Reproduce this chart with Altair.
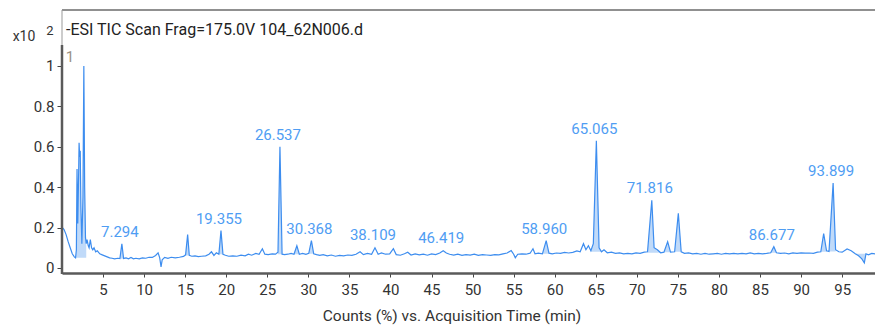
import altair as alt
import pandas as pd

# ---- data (time in min, counts x10^2 %) ----
times = [0.05, 0.25, 0.5, 0.75, 1.0, 1.25, 1.5, 1.65, 1.75, 1.83, 1.92, 2.02, 2.08, 2.15, 2.22, 2.3, 2.42,
         2.55, 2.66, 2.76, 2.86, 2.95, 3.05, 3.2, 3.3, 3.45, 3.6, 3.75, 3.9, 4.1, 4.3, 4.6, 4.9, 5.2, 5.5,
         5.8, 6.1, 6.4, 6.8, 7.05, 7.29, 7.5, 7.8, 8.1, 8.4, 8.7, 9.0, 9.4, 9.8, 10.2, 10.6, 11.0, 11.4,
         11.7, 11.9, 12.06, 12.2, 12.5, 12.9, 13.3, 13.8, 14.3, 14.8, 15.05, 15.3, 15.5, 15.8, 16.2, 16.6,
         17.0, 17.5, 17.9, 18.2, 18.5, 18.8, 19.1, 19.36, 19.6, 19.9, 20.3, 20.8, 21.3, 21.8, 22.3, 22.7,
         23.1, 23.6, 24.0, 24.4, 24.7, 25.1, 25.6, 26.0, 26.3, 26.54, 26.8, 27.1, 27.5, 27.9, 28.25, 28.6,
         28.9, 29.3, 29.7, 30.05, 30.37, 30.65, 31.0, 31.4, 31.8, 32.3, 32.8, 33.3, 33.8, 34.3, 34.8, 35.3,
         35.8, 36.3, 36.7, 37.2, 37.7, 38.11, 38.5, 38.9, 39.4, 39.9, 40.35, 40.7, 41.2, 41.7, 42.1, 42.5,
         43.0, 43.5, 44.0, 44.5, 45.0, 45.5, 46.0, 46.42, 46.8, 47.2, 47.7, 48.2, 48.7, 49.2, 49.7, 50.2,
         50.7, 51.2, 51.7, 52.2, 52.7, 53.2, 53.7, 54.2, 54.7, 55.0, 55.2, 55.5, 56.0, 56.5, 57.0, 57.35,
         57.6, 58.0, 58.5, 58.96, 59.3, 59.7, 60.2, 60.7, 61.2, 61.7, 62.2, 62.7, 63.1, 63.5, 63.8, 64.1,
         64.4, 64.7, 65.07, 65.4, 65.7, 66.0, 66.4, 66.9, 67.4, 67.9, 68.4, 68.9, 69.4, 69.9, 70.4, 70.9,
         71.3, 71.82, 72.1, 72.5, 72.9, 73.3, 73.75, 74.1, 74.6, 75.05, 75.4, 75.8, 76.3, 76.8, 77.3, 77.8,
         78.3, 78.8, 79.3, 79.8, 80.3, 80.8, 81.3, 81.8, 82.3, 82.8, 83.3, 83.8, 84.3, 84.8, 85.3, 85.8,
         86.3, 86.68, 87.0, 87.5, 88.0, 88.5, 89.0, 89.5, 90.0, 90.5, 91.0, 91.5, 92.0, 92.4, 92.75, 93.1,
         93.4, 93.9, 94.2, 94.6, 95.0, 95.6, 96.1, 96.6, 97.0, 97.4, 97.7, 97.9, 98.2, 98.6, 99.0]
counts = [0.20, 0.19, 0.165, 0.13, 0.10, 0.07, 0.055, 0.05, 0.09, 0.49, 0.22, 0.45, 0.62, 0.55, 0.58, 0.30, 0.12,
          0.35, 1.00, 0.40, 0.15, 0.12, 0.14, 0.11, 0.10, 0.14, 0.10, 0.09, 0.10, 0.08, 0.085, 0.07, 0.065, 0.06, 0.055,
          0.05, 0.048, 0.045, 0.048, 0.046, 0.12, 0.047, 0.05, 0.045, 0.052, 0.045, 0.048, 0.045, 0.05, 0.048, 0.053, 0.052, 0.062,
          0.075, 0.05, 0.005, 0.04, 0.052, 0.048, 0.053, 0.05, 0.053, 0.057, 0.065, 0.165, 0.062, 0.058, 0.06, 0.056,
          0.058, 0.06, 0.068, 0.08, 0.062, 0.075, 0.068, 0.185, 0.068, 0.063, 0.058, 0.06, 0.058, 0.063, 0.06, 0.068,
          0.063, 0.072, 0.068, 0.095, 0.068, 0.066, 0.07, 0.068, 0.078, 0.60, 0.068, 0.066, 0.068, 0.072, 0.068, 0.11,
          0.068, 0.072, 0.067, 0.072, 0.135, 0.07, 0.066, 0.062, 0.066, 0.06, 0.064, 0.058, 0.062, 0.06, 0.064, 0.062,
          0.068, 0.08, 0.066, 0.072, 0.068, 0.10, 0.068, 0.074, 0.068, 0.07, 0.095, 0.066, 0.063, 0.07, 0.078, 0.064,
          0.07, 0.065, 0.068, 0.063, 0.07, 0.066, 0.074, 0.085, 0.074, 0.068, 0.064, 0.068, 0.062, 0.066, 0.064, 0.068,
          0.062, 0.066, 0.064, 0.062, 0.066, 0.065, 0.07, 0.074, 0.086, 0.068, 0.05, 0.068, 0.07, 0.068, 0.073, 0.095,
          0.07, 0.073, 0.07, 0.135, 0.073, 0.07, 0.074, 0.072, 0.077, 0.074, 0.077, 0.084, 0.08, 0.12, 0.09, 0.11,
          0.085, 0.12, 0.63, 0.10, 0.08, 0.09, 0.075, 0.078, 0.072, 0.075, 0.07, 0.072, 0.07, 0.075, 0.072, 0.078,
          0.08, 0.335, 0.10, 0.09, 0.075, 0.078, 0.13, 0.078, 0.08, 0.27, 0.08, 0.072, 0.075, 0.07, 0.072, 0.068,
          0.072, 0.068, 0.07, 0.072, 0.068, 0.072, 0.07, 0.072, 0.07, 0.072, 0.07, 0.075, 0.07, 0.072, 0.07, 0.072,
          0.075, 0.105, 0.075, 0.072, 0.074, 0.07, 0.075, 0.072, 0.075, 0.073, 0.074, 0.072, 0.078, 0.08, 0.17, 0.085,
          0.082, 0.42, 0.09, 0.08, 0.078, 0.094, 0.085, 0.07, 0.06, 0.045, 0.025, 0.07, 0.065, 0.072, 0.07]

# integrated (shaded) peak windows: start / end retention time
shade_start = [1.65, 7.05, 15.05, 19.1, 26.3, 28.25, 30.05, 58.5, 64.4, 71.3, 73.3, 74.6, 86.3, 92.4, 93.4, 96.6]
shade_end = [2.95, 7.5, 15.5, 19.6, 26.8, 28.9, 30.65, 59.3, 65.7, 72.9, 74.1, 75.4, 87.0, 93.1, 94.2, 97.9]

label_times = [7.294, 19.355, 26.537, 30.368, 38.109, 46.419, 58.960, 65.065, 71.816, 86.677, 93.899]
label_heights = [0.12, 0.185, 0.60, 0.135, 0.105, 0.088, 0.135, 0.63, 0.335, 0.105, 0.42]
label_texts = ["7.294", "19.355", "26.537", "30.368", "38.109", "46.419", "58.960", "65.065", "71.816",
               "86.677", "93.899"]

x_ticks = [5, 10, 15, 20, 25, 30, 35, 40, 45, 50, 55, 60, 65, 70, 75, 80, 85, 90, 95]
y_ticks = [0, 0.2, 0.4, 0.6, 0.8, 1.0]

TITLE = "-ESI TIC Scan Frag=175.0V 104_62N006.d"
X_TITLE = "Counts (%) vs. Acquisition Time (min)"

# ---- tables ----
trace = pd.DataFrame({"t": times, "v": counts})
rows = []
for g, (a, b) in enumerate(zip(shade_start, shade_end)):
    seg = trace[(trace.t >= a) & (trace.t <= b)]
    base = min(seg.v.iloc[0], seg.v.iloc[-1])
    for t, v in zip(seg.t, seg.v):
        rows.append({"t": t, "v": v, "base": base, "g": g})
shade = pd.DataFrame(rows)
labels = pd.DataFrame({"t": label_times, "v": label_heights, "txt": label_texts})
one = pd.DataFrame({"a": [0]})

FONT = "Roboto"
LINE = "#3d8def"
FILL = "#b9d6f8"
LBL = "#4f9df3"

W, H = 813, 263
xs = alt.Scale(domain=[0, 99], nice=False, zero=False)
ys = alt.Scale(domain=[-0.025, 1.277], nice=False, zero=False)

x_axis = alt.Axis(
    values=x_ticks, title=None, grid=False, domain=True, domainColor="#5a5a5a", domainWidth=2.5,
    tickColor="#444", tickSize=4, labelFontSize=15, labelColor="#333", labelFont=FONT,
    labelPadding=5, labelFlush=False)
y_axis = alt.Axis(
    values=y_ticks, format="~g", title=None, grid=False, domain=False,
    tickColor="#444", tickSize=5, labelFontSize=15, labelColor="#333", labelFont=FONT,
    labelPadding=3)

X = alt.X("t:Q", scale=xs, axis=x_axis)
Y = alt.Y("v:Q", scale=ys, axis=y_axis)

area = alt.Chart(shade).mark_area(color=FILL, opacity=0.9, interpolate="linear").encode(
    x=X, y=Y, y2="base:Q", detail="g:N",
)

line = alt.Chart(trace).mark_line(color=LINE, strokeWidth=1.2).encode(
    x=X, y=Y, order="t:Q",
)

peak_labels = alt.Chart(labels).mark_text(
    color=LBL, fontSize=15, font=FONT, dy=-12, dx=-2, baseline="middle", align="center"
).encode(x=X, y=Y, text="txt:N")

top_rule = alt.Chart(one).mark_rule(color="#222", strokeWidth=1.2).encode(
    x=alt.value(0), x2=alt.value(W), y=alt.value(0))
left_thin = alt.Chart(one).mark_rule(color="#999", strokeWidth=1).encode(
    x=alt.value(0), y=alt.value(0), y2=alt.value(35))
y_domain = alt.Chart(one).mark_rule(color="#5a5a5a", strokeWidth=2.5).encode(
    x=alt.value(0), y=alt.value(35), y2=alt.value(H + 1))

title_txt = alt.Chart(one).mark_text(text=TITLE, align="left", baseline="middle", fontSize=16,
                                     font=FONT, color="#222").encode(x=alt.value(4), y=alt.value(20))
x10_txt = alt.Chart(one).mark_text(text="x10", align="center", baseline="middle", fontSize=14,
                                   font=FONT, color="#333").encode(x=alt.value(-38), y=alt.value(27))
exp_txt = alt.Chart(one).mark_text(text="2", align="center", baseline="middle", fontSize=13,
                                   font=FONT, color="#333").encode(x=alt.value(-12), y=alt.value(21))
one_txt = alt.Chart(one).mark_text(text="1", align="center", baseline="middle", fontSize=15,
                                   font=FONT, color="#9a9184").encode(x=alt.value(8), y=alt.value(47))
xtitle_txt = alt.Chart(one).mark_text(text=X_TITLE, align="center", baseline="middle", fontSize=15.5,
                                      font=FONT, color="#333").encode(x=alt.value(390), y=alt.value(306))

chart = alt.layer(
    area, line, peak_labels, top_rule, left_thin, y_domain,
    title_txt, x10_txt, exp_txt, one_txt, xtitle_txt
).properties(
    width=W, height=H,
    autosize=alt.AutoSizeParams(type="none"),
    padding={"left": 62, "top": 10, "right": 0, "bottom": 54},
    background="white",
).configure_view(strokeWidth=0)

chart.save("out.html", embed_options={"renderer": "svg", "actions": False})
